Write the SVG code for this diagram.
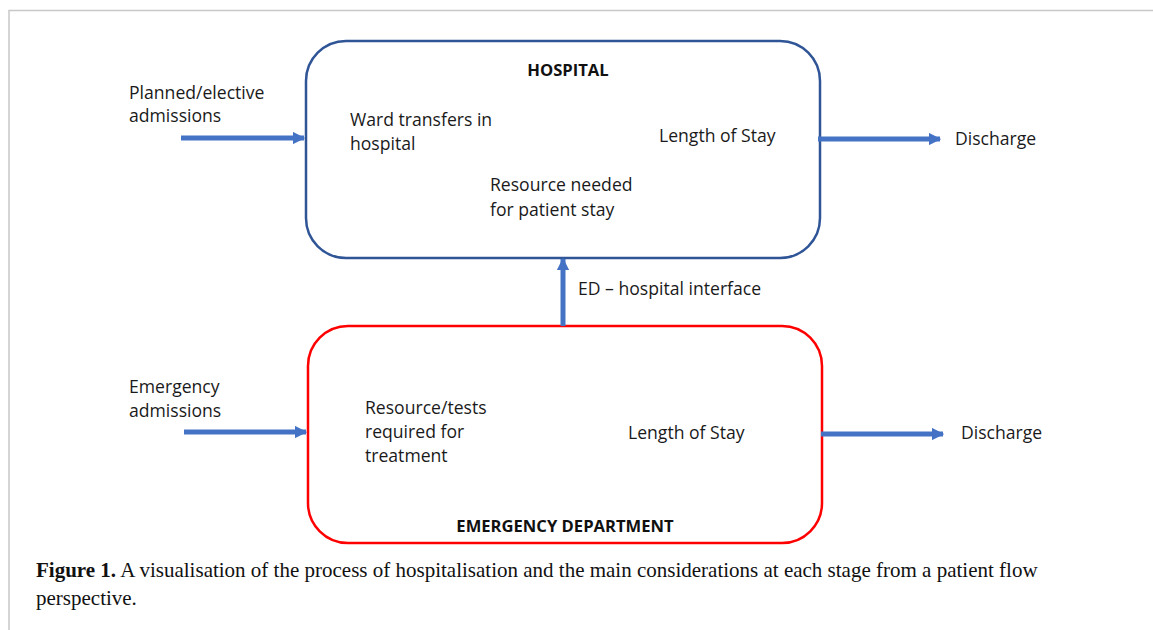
<svg xmlns="http://www.w3.org/2000/svg" width="1153" height="630" viewBox="0 0 1153 630">
  <defs>
    <marker id="head" viewBox="0 0 10 10" refX="9" refY="5" markerWidth="2.5" markerHeight="2.5" markerUnits="strokeWidth" orient="auto">
      <path d="M0,0 L10,5 L0,10 Z" fill="#4472C4"/>
    </marker>
    <style>
      .lbl { font-family: "Open Sans", "Liberation Sans", sans-serif; font-size: 17.6px; fill: #1a1a1a; }
      .ttl { font-family: "Open Sans", "Liberation Sans", sans-serif; font-size: 16.6px; font-weight: bold; fill: #111; text-anchor: middle; }
      .flow { stroke: #4472C4; stroke-width: 5; fill: none; marker-end: url(#head); }
      .cap { font-family: "Liberation Serif", serif; font-size: 21px; fill: #111; }
    </style>
  </defs>
  <rect width="1153" height="630" fill="#fff"/>
  <!-- figure frame -->
  <path d="M9,630 V10.5 H1153" fill="none" stroke="#c8c8c8" stroke-width="1.5"/>

  <g id="hospital">
    <rect x="306" y="41" width="514" height="217" rx="40" ry="40" fill="#fff" stroke="#2F5597" stroke-width="2.5"/>
    <text class="ttl" x="568" y="76">HOSPITAL</text>
    <text class="lbl" x="350" y="126">Ward transfers in</text>
    <text class="lbl" x="350" y="150">hospital</text>
    <text class="lbl" x="659" y="142">Length of Stay</text>
    <text class="lbl" x="490" y="191">Resource needed</text>
    <text class="lbl" x="490" y="216">for patient stay</text>
  </g>

  <g id="ed">
    <rect x="308" y="326" width="514" height="217" rx="40" ry="40" fill="#fff" stroke="#FF0000" stroke-width="2.5"/>
    <text class="ttl" x="565" y="532">EMERGENCY DEPARTMENT</text>
    <text class="lbl" x="365" y="414">Resource/tests</text>
    <text class="lbl" x="365" y="438">required for</text>
    <text class="lbl" x="365" y="462">treatment</text>
    <text class="lbl" x="628" y="439">Length of Stay</text>
  </g>

  <g id="inputs-outputs">
    <text class="lbl" x="129" y="99">Planned/elective</text>
    <text class="lbl" x="129" y="122">admissions</text>
    <text class="lbl" x="955" y="145">Discharge</text>
    <text class="lbl" x="129" y="393">Emergency</text>
    <text class="lbl" x="129" y="417">admissions</text>
    <text class="lbl" x="961" y="439">Discharge</text>
    <text class="lbl" x="578" y="295">ED – hospital interface</text>
  </g>

  <g id="connectors">
    <line class="flow" x1="181" y1="138" x2="304" y2="138"/>
    <line class="flow" x1="818" y1="139" x2="940" y2="139"/>
    <line class="flow" x1="563" y1="326" x2="563" y2="259"/>
    <line class="flow" x1="184" y1="432" x2="306" y2="432"/>
    <line class="flow" x1="821" y1="434" x2="943" y2="434"/>
  </g>

  <g id="caption">
    <text class="cap" x="36" y="577"><tspan font-weight="bold">Figure 1.</tspan> A visualisation of the process of hospitalisation and the main considerations at each stage from a patient flow</text>
    <text class="cap" x="36" y="605">perspective.</text>
  </g>
</svg>
